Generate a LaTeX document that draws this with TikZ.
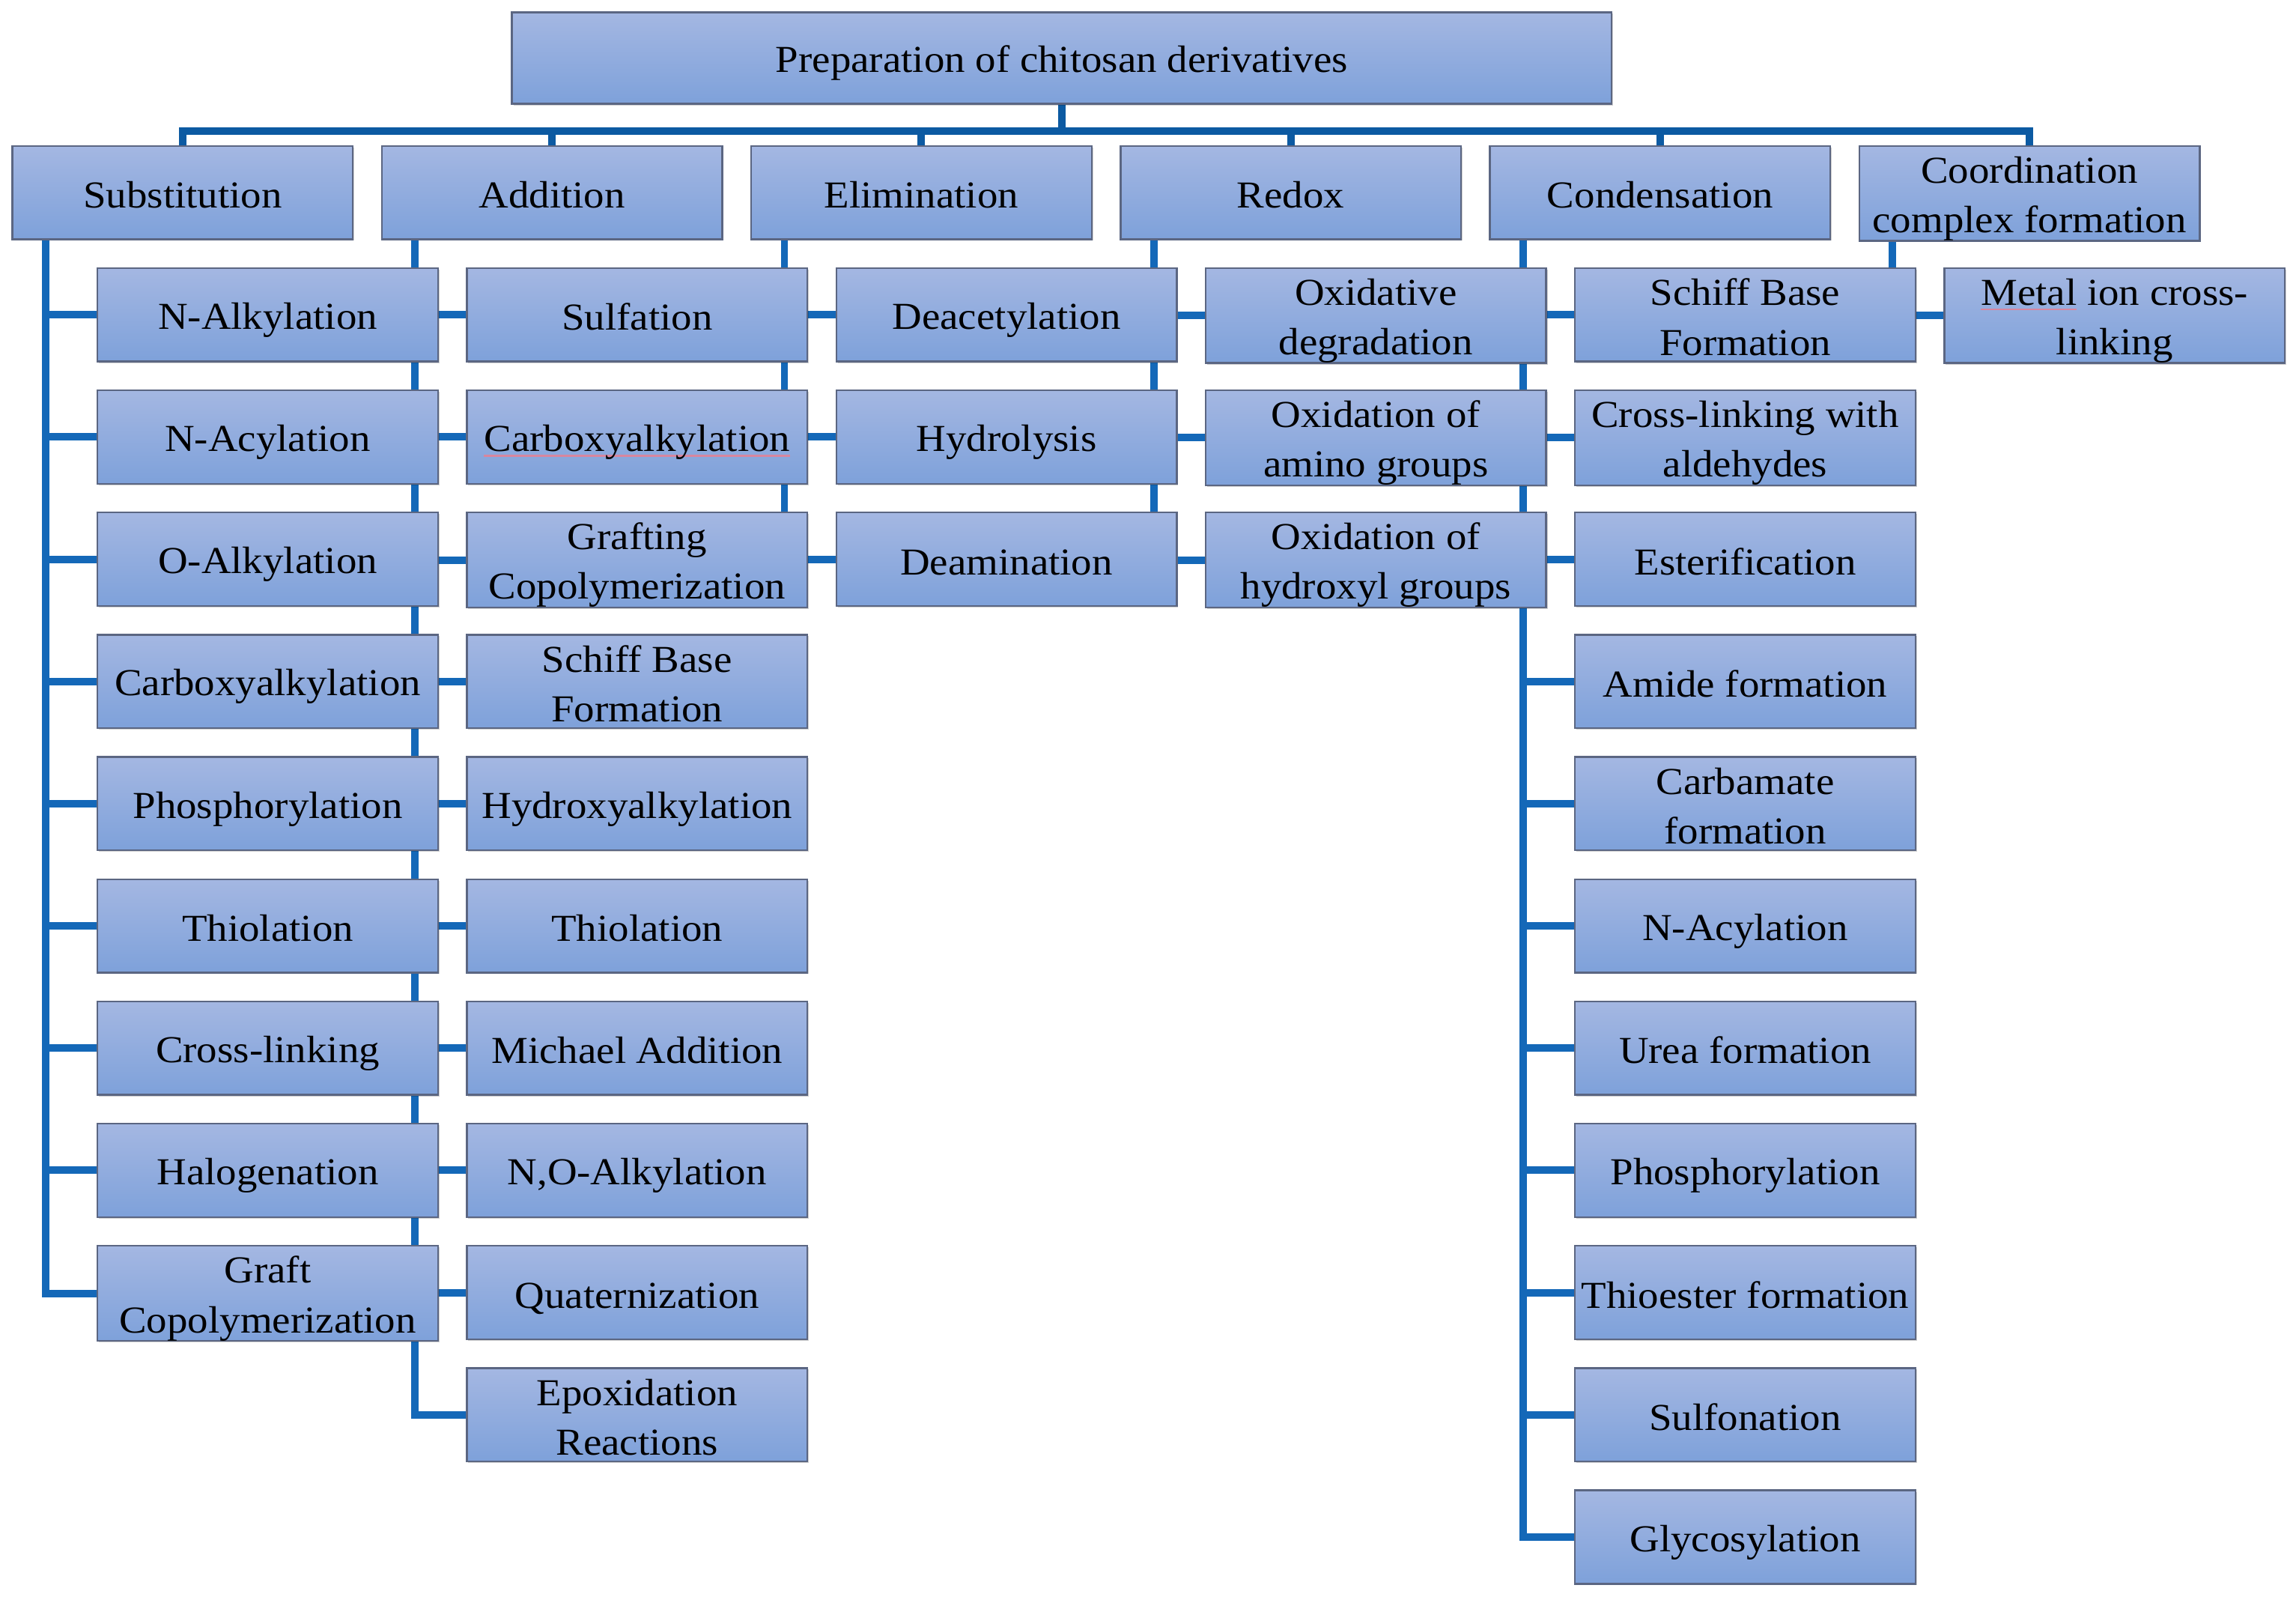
\documentclass[tikz,border=0pt]{standalone}
\usepackage{fontspec}
\setmainfont{Liberation Serif}[FakeStretch=1.08]
\usetikzlibrary{calc,shadows}
\definecolor{boxtop}{HTML}{A4B7E2}
\definecolor{boxbot}{HTML}{7EA1DA}
\definecolor{boxline}{HTML}{5B6682}
\definecolor{busc}{HTML}{0C5AA2}
\definecolor{connc}{HTML}{1468B8}
\definecolor{spell}{HTML}{D7869F}
\pgfdeclarelayer{bg}
\pgfsetlayers{bg,main}
\newcommand\spellu[1]{\setbox0\hbox{#1}\rlap{\color{spell}\raisebox{-1.8pt}{\rule{\wd0}{0.55pt}}}\box0\relax}
\newcommand\bs{\rule[-2pt]{0pt}{14.6pt}}
\tikzset{
  box/.style={draw=boxline, line width=0.6pt, top color=boxtop, bottom color=boxbot,
    minimum width=116.25pt, minimum height=31.9pt, inner sep=0pt, anchor=north west,
    align=center, font=\fontsize{13}{17}\selectfont,
    drop shadow={shadow xshift=0.5pt, shadow yshift=-0.5pt, fill=black, opacity=0.18}},
  topbox/.style={box, minimum width=375.5pt, minimum height=31.25pt},
  conn/.style={draw=connc, line width=2.55pt},
  busline/.style={draw=busc, line width=2.55pt}
}
\begin{document}
\begin{tikzpicture}[x=0.5pt,y=-0.5pt]
\useasboundingbox (0,0) rectangle (1568,1092);
% top
\node[topbox] (top) at (349,7.8) {\bs Preparation of chitosan derivatives\bs};
% level 1
\node[box] (p0) at (7.9,99) {\bs Substitution\bs};
\node[box] (p1) at (260.15,99) {\bs Addition\bs};
\node[box] (p2) at (512.4,99) {\bs Elimination\bs};
\node[box] (p3) at (764.65,99) {\bs Redox\bs};
\node[box] (p4) at (1016.9,99) {\bs Condensation\bs};
\node[box] (p5) at (1269.15,99) {\bs Coordination\\complex formation\bs};
% children
\foreach \t [count=\i from 0] in {{N-Alkylation},{N-Acylation},{O-Alkylation},{Carboxyalkylation},{Phosphorylation},{Thiolation},{Cross-linking},{Halogenation},{Graft\\Copolymerization}}
  \node[box] (c0-\i) at (66.0,{182.4+83.45*\i}) {\bs\t\bs};
\foreach \t [count=\i from 0] in {{Sulfation},{\spellu{Carboxyalkylation}},{Grafting\\Copolymerization},{Schiff Base\\Formation},{Hydroxyalkylation},{Thiolation},{Michael Addition},{N,O-Alkylation},{Quaternization},{Epoxidation\\Reactions}}
  \node[box] (c1-\i) at (318.25,{182.4+83.45*\i}) {\bs\t\bs};
\foreach \t [count=\i from 0] in {{Deacetylation},{Hydrolysis},{Deamination}}
  \node[box] (c2-\i) at (570.5,{182.4+83.45*\i}) {\bs\t\bs};
\foreach \t [count=\i from 0] in {{Oxidative\\degradation},{Oxidation of\\amino groups},{Oxidation of\\hydroxyl groups}}
  \node[box] (c3-\i) at (822.75,{182.4+83.45*\i}) {\bs\t\bs};
\foreach \t [count=\i from 0] in {{Schiff Base\\Formation},{Cross-linking with\\aldehydes},{Esterification},{Amide formation},{Carbamate\\formation},{N-Acylation},{Urea formation},{Phosphorylation},{Thioester formation},{Sulfonation},{Glycosylation}}
  \node[box] (c4-\i) at (1075.0,{182.4+83.45*\i}) {\bs\t\bs};
\node[box] (c5-0) at (1327.25,182.4) {\bs\spellu{Metal} ion cross-\\linking\bs};
% connectors
\begin{pgfonlayer}{bg}
  \coordinate (bus) at (0,89.5);
  \draw[busline] (top.south) -- (top.south |- bus);
  \draw[busline] (p0.north) -- (p0.north |- bus) -- (p5.north |- bus) -- (p5.north);
  \foreach \k in {1,2,3,4}
    \draw[busline] (p\k.north |- bus) -- (p\k.north);
  \foreach \k/\m in {0/8,1/9,2/2,3/2,4/10,5/0} {
    \coordinate (v\k) at ($(p\k.south west)+(23.3,0)$);
    \draw[conn] (v\k) |- (c\k-\m.west);
    \ifnum\m>0
      \pgfmathtruncatemacro\mm{\m-1}
      \foreach \i in {0,...,\mm}
        \draw[conn] (v\k |- c\k-\i.west) -- (c\k-\i.west);
    \fi
  }
\end{pgfonlayer}
\end{tikzpicture}
\end{document}
